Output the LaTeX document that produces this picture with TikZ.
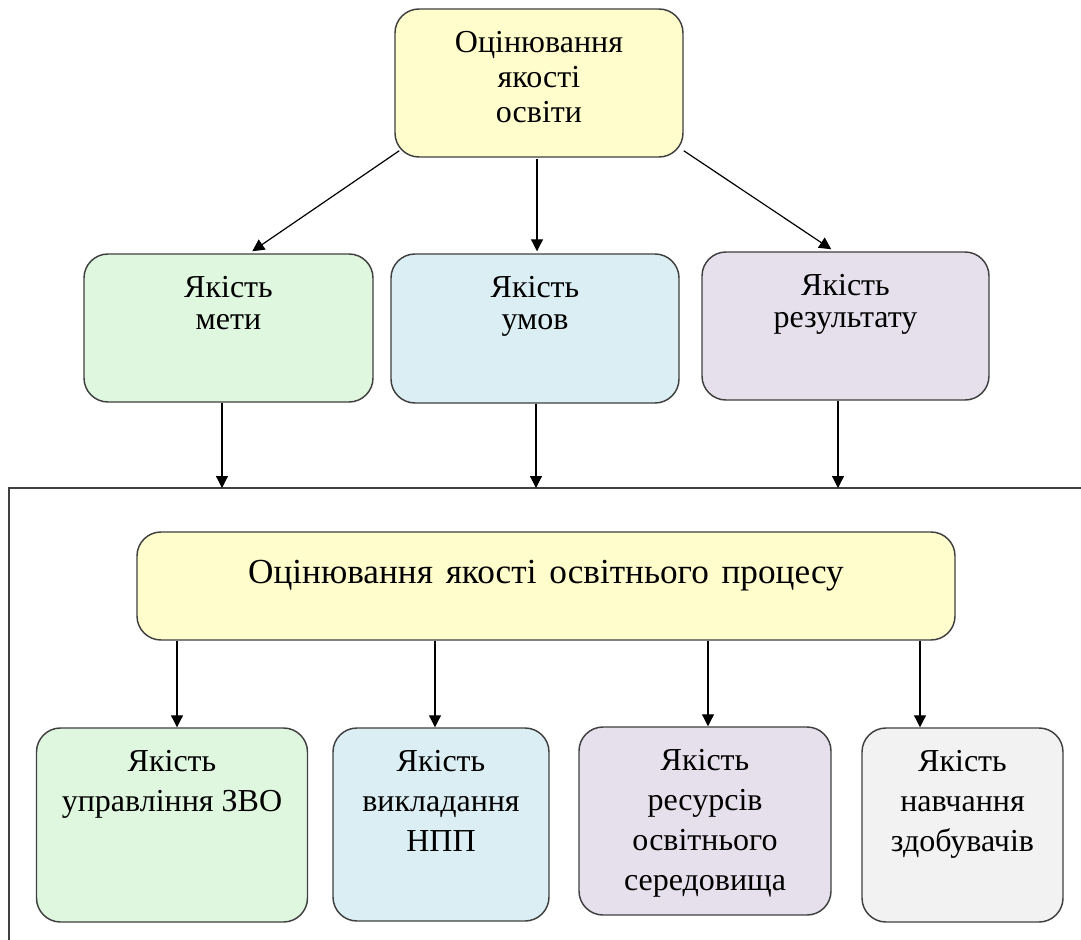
\documentclass[tikz,border=0pt]{standalone}
\usepackage{fontspec}
\setmainfont{Liberation Serif}
\usetikzlibrary{arrows.meta,calc}
\definecolor{yel}{HTML}{FFFDCC}
\definecolor{grn}{HTML}{DFF6DF}
\definecolor{blu}{HTML}{DAEEF3}
\definecolor{pur}{HTML}{E5E0EC}
\definecolor{gry}{HTML}{F2F2F2}
\definecolor{bord}{HTML}{404040}
\newcommand{\mylines}[1]{\begin{tabular}[t]{@{}c@{}}#1\end{tabular}}
\begin{document}
\begin{tikzpicture}[x=0.75pt,y=-0.75pt,
  box/.style={draw=bord, line width=1.1pt, rounded corners=18pt, inner sep=0pt},
  txt/.style={anchor=base, inner sep=0pt},
  fsA/.style={font=\fontsize{24}{26.25}\selectfont},
  fsB/.style={font=\fontsize{24}{24}\selectfont},
  fsC/.style={font=\fontsize{24}{30}\selectfont},
  fsBig/.style={font=\fontsize{26.4}{30}\selectfont},
  arr/.style={-{Triangle[length=9pt,width=9pt]}, line width=0.9pt, draw=black},
  frameline/.style={draw=bord, line width=1.1pt}]
\useasboundingbox (0,0) rectangle (1081,939);
\fill[white] (0,0) rectangle (1081,939);
% boxes
\node[box, fill=yel, minimum width=216pt, minimum height=111pt] (top) at (539,83) {};
\node[box, fill=grn, minimum width=216.75pt, minimum height=111pt] (r2a) at (228.5,328) {};
\node[box, fill=blu, minimum width=216pt, minimum height=111.75pt] (r2b) at (535,328.5) {};
\node[box, fill=pur, minimum width=215.25pt, minimum height=111pt] (r2c) at (845.5,326) {};
\node[box, fill=yel, minimum width=613.5pt, minimum height=81pt] (big) at (546,586) {};
\node[box, fill=grn, minimum width=203.25pt, minimum height=145.5pt] (b1) at (172,825) {};
\node[box, fill=blu, minimum width=162pt, minimum height=144.75pt] (b2) at (441,824.5) {};
\node[box, fill=pur, minimum width=189pt, minimum height=141pt] (b3) at (705,821) {};
\node[box, fill=gry, minimum width=150.75pt, minimum height=145.5pt] (b4) at (962.5,825) {};
% texts
\node[txt, fsA] (ttop) at (539,52) {\mylines{Оцінювання\\якості\\освіти}};
\node[txt, fsB] (tr2a) at (228.5,297) {\mylines{Якість\\мети}};
\node[txt, fsB] (tr2b) at (535,297) {\mylines{Якість\\умов}};
\node[txt, fsB] (tr2c) at (845.5,295) {\mylines{Якість\\результату}};
\node[txt, fsBig] (tbig) at (546,583) {Оцінювання\hspace{3pt} якості\hspace{3pt} освітнього\hspace{3pt} процесу};
\node[txt, fsC] (tb1) at (172,771) {\mylines{Якість\\управління ЗВО}};
\node[txt, fsC] (tb2) at (441,771) {\mylines{Якість\\викладання\\НПП}};
\node[txt, fsC] (tb3) at (705,770) {\mylines{Якість\\ресурсів\\освітнього\\середовища}};
\node[txt, fsC] (tb4) at (962.5,771) {\mylines{Якість\\навчання\\здобувачів}};
% frame
\draw[frameline] (1090,488) -- (9,488) -- (9,950);
\coordinate (f1) at (222,488);
\coordinate (f2) at (536,488);
\coordinate (f3) at (838,488);
% arrows top -> row 2
\draw[arr] ($(top.south west)+(5,-7)$) -- ($(r2a.north west)+(169,-2)$);
\draw[arr] ($(top.south)+(-2,1)$) -- ($(top.south |- r2b.north)+(-2,-2)$);
\draw[arr] ($(top.south east)+(0,-7)$) -- ($(r2c.north west)+(130,-2)$);
% row 2 -> frame
\draw[arr] (r2a.south -| f1) -- (f1);
\draw[arr] (r2b.south -| f2) -- (f2);
\draw[arr] (r2c.south -| f3) -- (f3);
% big -> bottom row
\coordinate (c1) at ($(b1.north)+(5,0)$);
\coordinate (c2) at ($(b2.north)+(-6,0)$);
\coordinate (c3) at ($(b3.north)+(3,0)$);
\coordinate (c4) at ($(b4.north)+(-42.5,0)$);
\draw[arr] (c1 |- big.south) -- (c1);
\draw[arr] (c2 |- big.south) -- (c2);
\draw[arr] (c3 |- big.south) -- (c3);
\draw[arr] (c4 |- big.south) -- (c4);
\end{tikzpicture}
\end{document}
